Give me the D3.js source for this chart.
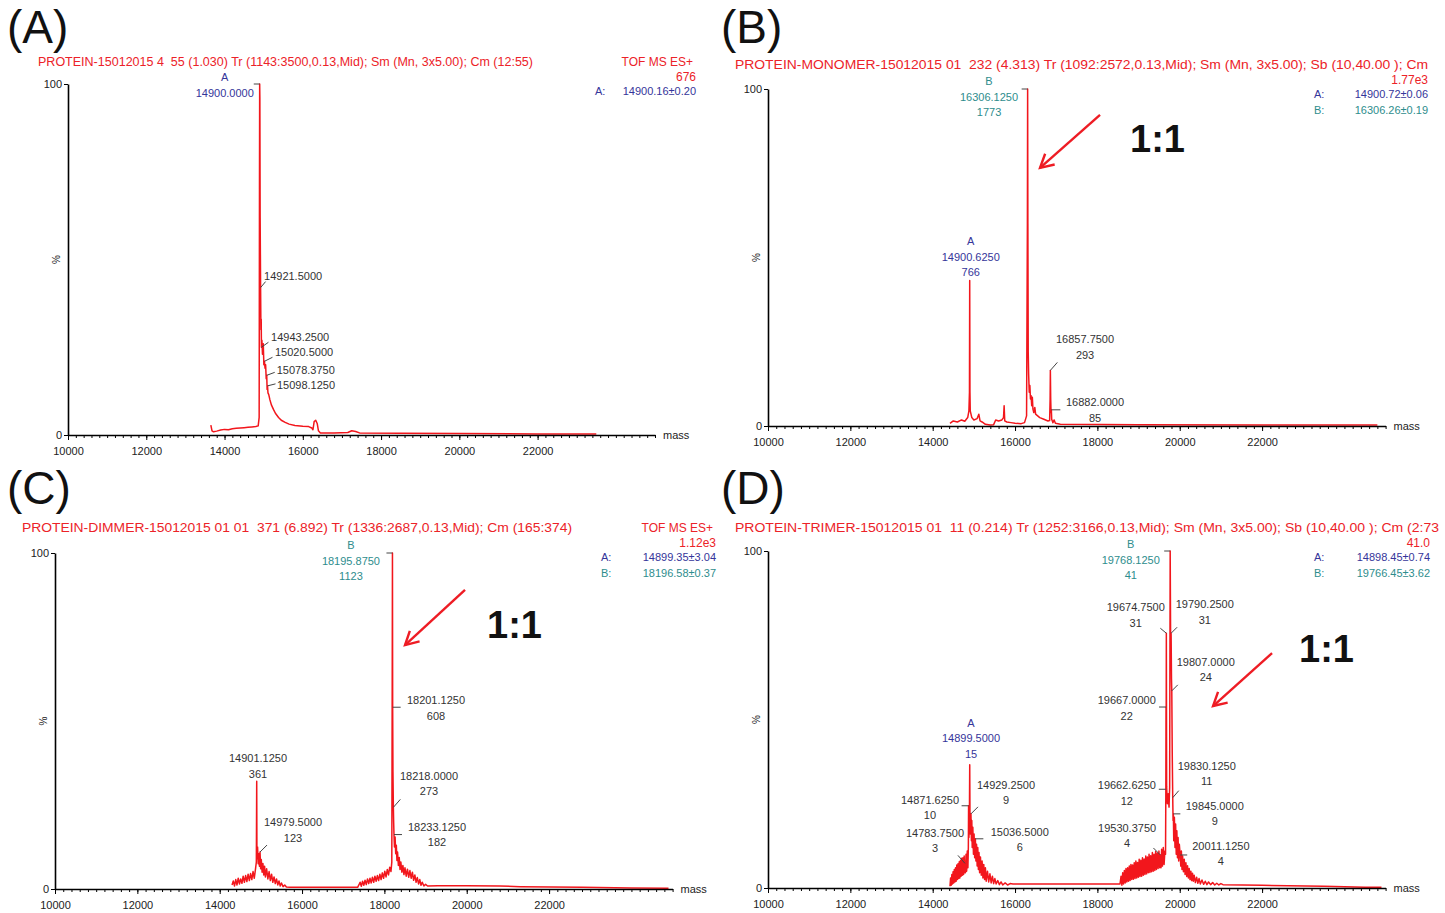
<!DOCTYPE html>
<html>
<head>
<meta charset="utf-8">
<script src="https://cdn.jsdelivr.net/npm/d3@7"></script>
<style>
  body { margin: 0; background: #fff; }
  text { font-family: "Liberation Sans", Arial, sans-serif; white-space: pre; }
</style>
</head>
<body>
<svg id="fig" width="1445" height="913"></svg>
<script>
// ---- axis values ----
const massTicks = [10000, 12000, 14000, 16000, 18000, 20000, 22000];
const massDomain = [10000, 25000];

// ---- header texts ----
const headerA = "PROTEIN-15012015 4  55 (1.030) Tr (1143:3500,0.13,Mid); Sm (Mn, 3x5.00); Cm (12:55)";
const headerB = "PROTEIN-MONOMER-15012015 01  232 (4.313) Tr (1092:2572,0.13,Mid); Sm (Mn, 3x5.00); Sb (10,40.00 ); Cm";
const headerC = "PROTEIN-DIMMER-15012015 01 01  371 (6.892) Tr (1336:2687,0.13,Mid); Cm (165:374)";
const headerD = "PROTEIN-TRIMER-15012015 01  11 (0.214) Tr (1252:3166,0.13,Mid); Sm (Mn, 3x5.00); Sb (10,40.00 ); Cm (2:73";

// ---- right-hand stats: [mode, total], then component lines ----
const statTopA = ["TOF MS ES+", "676"];
const statTopB = ["", "1.77e3"];
const statTopC = ["TOF MS ES+", "1.12e3"];
const statTopD = ["", "41.0"];
const compA = [["A:", "14900.16\u00b10.20"]];
const compB = [["A:", "14900.72\u00b10.06"], ["B:", "16306.26\u00b10.19"]];
const compC = [["A:", "14899.35\u00b13.04"], ["B:", "18196.58\u00b10.37"]];
const compD = [["A:", "14898.45\u00b10.74"], ["B:", "19766.45\u00b13.62"]];

// ---- spectra: [mass, relative intensity %] ----
const specA = [
  [13650,2.8],[13680,1.2],[13720,0.9],[13800,1.1],[13900,1.4],[14000,1.6],[14100,1.5],[14200,1.8],
  [14300,1.9],[14400,2.0],[14500,2.1],[14600,2.2],[14700,2.3],[14800,2.4],[14860,2.6],[14885,5],
  [14893,70],[14898,100],[14903,96],[14910,62],[14921.5,42],[14930,30],[14937,33],[14943.25,25],
  [14955,27],[14970,23],[14990,26],[15005,20],[15020.5,21],[15035,19],[15050,20],[15065,16],
  [15078.4,17],[15088,13],[15098.1,14],[15110,12],[15130,11.5],[15160,10],[15200,8.5],[15250,7.3],
  [15300,6.2],[15380,5],[15450,4.2],[15550,3.6],[15650,3.1],[15800,2.7],[16000,2.5],[16150,2.4],
  [16230,2.0],[16260,1.5],[16290,3.8],[16330,4.2],[16370,3.2],[16400,1.2],[16450,0.6],[16800,0.6],
  [17150,0.7],[17250,1.2],[17350,1.0],[17450,0.6],[18500,0.5],[20000,0.4],[22000,0.3],[23500,0.25]
];
const specB = [
  [14420,0.8],[14500,1.5],[14600,1.2],[14700,1.8],[14780,1.4],[14850,2.5],[14880,4.5],[14893,10],
  [14899,43.2],[14905,10],[14912,4.5],[14950,2.5],[15000,1.8],[15080,2.2],[15120,3.5],[15150,1.5],
  [15200,1.2],[15280,0.5],[15400,0.3],[15480,0.4],[15530,1.8],[15600,1.5],[15680,1.8],[15720,2.5],
  [15735,6],[15750,1.5],[15800,1.2],[15900,1.0],[16000,0.8],[16150,0.7],[16230,1.0],[16280,3],
  [16300,60],[16306,100],[16312,60],[16320,22],[16330,15.5],[16345,10],[16360,12],[16375,8],
  [16390,9],[16405,6],[16420,8.5],[16435,5],[16455,4],[16480,5.5],[16500,3.5],[16550,3],
  [16600,2.5],[16700,2],[16800,1.5],[16840,1.6],[16852,8],[16858,16.5],[16866,8],[16875,4],
  [16882,4.8],[16890,2],[16920,1],[16950,1.8],[16980,0.8],[17100,0.5],[19000,0.4],[22000,0.3],[24800,0.3]
];
const specC = [
  [14300,1.2],[14330,2.4],[14360,0.9],[14390,2.8],[14420,1.2],[14450,3.2],[14480,1.5],[14510,3.0],
  [14540,1.7],[14570,3.8],[14600,2.0],[14630,4.0],[14660,2.2],[14690,4.4],[14720,2.5],[14750,4.6],
  [14780,2.8],[14810,5.2],[14840,3.2],[14870,6.0],[14890,8],[14899,32.1],[14905,9],[14920,12.5],
  [14935,7.5],[14950,10.5],[14965,6.8],[14979.5,11],[14995,6.0],[15010,8.8],[15030,5.0],[15050,7.6],
  [15070,4.2],[15090,6.8],[15110,3.6],[15140,6.0],[15170,3.0],[15200,5.2],[15230,2.5],[15260,4.4],
  [15290,2.0],[15320,3.6],[15350,1.6],[15380,3.0],[15410,1.2],[15440,2.4],[15470,0.9],[15500,1.8],
  [15540,0.7],[15580,1.2],[15620,0.6],[15700,0.5],[16500,0.5],[17350,0.5],[17380,1.2],[17410,2.0],
  [17440,0.8],[17470,2.3],[17500,1.1],[17530,2.6],[17560,1.3],[17590,3.0],[17620,1.6],[17650,3.2],
  [17680,1.8],[17710,3.5],[17740,2.0],[17770,3.8],[17800,2.3],[17830,4.0],[17860,2.5],[17890,4.4],
  [17920,2.8],[17950,4.8],[17980,3.2],[18010,5.3],[18040,3.6],[18070,5.8],[18100,4.2],[18130,6.5],
  [18160,5.2],[18180,8],[18190,60],[18196,100],[18201,54.1],[18208,35],[18218,24.3],[18225,20],
  [18233,16.2],[18245,12.5],[18260,15.5],[18275,10.5],[18290,13],[18305,8.5],[18320,11],[18340,7],
  [18360,9.4],[18380,5.8],[18400,8],[18425,5],[18450,7],[18475,4.3],[18500,6.3],[18530,3.8],
  [18560,5.9],[18590,3.5],[18620,5.5],[18650,3.2],[18680,5.0],[18710,2.6],[18740,4.2],[18770,2.0],
  [18800,3.4],[18830,1.5],[18860,2.8],[18890,1.1],[18920,2.0],[18960,0.9],[19000,1.4],[19050,0.9],
  [19300,1.0],[20000,1.0],[20800,0.9],[21300,0.7],[22800,0.5],[24000,0.3],[24900,0.2]
];
const specD = [
  [14420,0.5],[14435,3.0],[14450,0.8],[14465,4.0],[14480,1.2],[14495,4.8],[14510,1.5],[14525,5.5],
  [14540,1.8],[14555,6.0],[14570,2.0],[14585,6.8],[14600,2.5],[14615,7.2],[14630,2.8],[14645,7.8],
  [14660,3.0],[14675,8.2],[14690,3.5],[14705,8.8],[14720,3.8],[14735,9.0],[14750,4.0],[14765,9.5],
  [14775,4.5],[14784,7.3],[14795,4.5],[14810,10],[14825,5],[14840,11],[14855,6],[14866,12],
  [14871.6,24.4],[14880,15],[14890,18],[14899.5,36.6],[14906,20],[14915,16],[14922,19],[14929,22],
  [14940,14],[14950,20],[14960,12],[14975,18],[14990,10],[15005,16],[15020,9],[15036.5,14.6],
  [15050,8],[15065,13],[15080,6.5],[15095,12],[15110,5.5],[15125,10.5],[15140,4.5],[15160,9.2],
  [15180,3.8],[15200,8.0],[15220,3.0],[15240,7.0],[15260,2.5],[15280,6.0],[15300,2.0],[15330,5.0],
  [15360,1.8],[15390,4.2],[15420,1.5],[15450,3.5],[15480,1.3],[15510,2.8],[15540,1.2],[15580,2.2],
  [15620,1.0],[15660,1.8],[15700,0.9],[15760,1.5],[15820,0.9],[15880,1.3],[15950,1.2],[16500,1.2],
  [17500,1.2],[18550,1.2],[18575,3.5],[18595,0.8],[18615,4.5],[18635,1.2],[18655,5.2],[18675,1.5],
  [18695,5.8],[18715,1.8],[18735,6.0],[18755,2.0],[18775,6.5],[18795,2.2],[18815,7.0],[18835,2.5],
  [18855,6.8],[18875,2.6],[18895,7.5],[18915,2.8],[18935,8.0],[18955,3.0],[18975,7.6],[18995,3.2],
  [19015,8.5],[19035,3.4],[19055,8.2],[19075,3.5],[19095,9.0],[19115,3.8],[19135,8.6],[19155,4.0],
  [19175,9.5],[19195,4.2],[19215,9.2],[19235,4.5],[19255,10.0],[19275,4.6],[19295,9.6],[19315,4.8],
  [19335,10.5],[19355,5.0],[19375,10.0],[19395,5.2],[19415,10.8],[19435,5.5],[19455,10.4],[19475,5.8],
  [19495,11],[19515,6],[19530.4,9.8],[19545,6],[19560,11.5],[19580,6.5],[19600,12],[19620,7],
  [19640,11],[19655,10],[19662.6,29.3],[19667,53.7],[19670,45],[19674.8,75.6],[19682,30],[19700,25],
  [19720,28],[19740,24],[19755,30],[19768.1,100],[19780,70],[19790.3,75.6],[19800,62],[19807,58.5],
  [19818,40],[19830.1,26.8],[19838,20],[19845,22],[19855,14],[19870,21],[19885,12],[19900,19],
  [19915,10],[19930,17],[19945,9],[19960,15],[19975,8],[19990,13],[20011,9.8],[20025,6.5],
  [20040,11],[20055,5.5],[20070,9.5],[20090,4.8],[20110,8.5],[20130,4.0],[20150,7.5],[20170,3.4],
  [20190,6.6],[20210,3.0],[20230,5.8],[20250,2.5],[20270,5.0],[20290,2.2],[20310,4.4],[20330,2.0],
  [20350,3.8],[20380,1.6],[20410,3.2],[20440,1.4],[20470,2.8],[20500,1.2],[20540,2.4],[20580,1.1],
  [20620,2.0],[20660,1.0],[20700,1.8],[20750,1.0],[20800,1.6],[20850,0.9],[20900,1.4],[20950,0.9],
  [21000,1.3],[21050,1.0],[22000,0.8],[23500,0.5],[24500,0.2],[24900,0.2]
];

// ---- labelled peaks: mass, intensity %, tag, text lines ----
const peaksA = [
  { m: 14900, v: 100, tag: "A", lines: ["A", "14900.0000"] },
  { m: 14921.5, v: 42, tag: "", lines: ["14921.5000"] },
  { m: 14943.25, v: 25, tag: "", lines: ["14943.2500"] },
  { m: 15020.5, v: 21, tag: "", lines: ["15020.5000"] },
  { m: 15078.375, v: 17, tag: "", lines: ["15078.3750"] },
  { m: 15098.125, v: 14, tag: "", lines: ["15098.1250"] }
];
const peaksB = [
  { m: 14900.625, v: 43.2, tag: "A", lines: ["A", "14900.6250", "766"] },
  { m: 16306.125, v: 100, tag: "B", lines: ["B", "16306.1250", "1773"] },
  { m: 16857.75, v: 16.5, tag: "", lines: ["16857.7500", "293"] },
  { m: 16882, v: 4.8, tag: "", lines: ["16882.0000", "85"] }
];
const peaksC = [
  { m: 14901.125, v: 32.1, tag: "", lines: ["14901.1250", "361"] },
  { m: 14979.5, v: 11, tag: "", lines: ["14979.5000", "123"] },
  { m: 18195.875, v: 100, tag: "B", lines: ["B", "18195.8750", "1123"] },
  { m: 18201.125, v: 54.1, tag: "", lines: ["18201.1250", "608"] },
  { m: 18218, v: 24.3, tag: "", lines: ["18218.0000", "273"] },
  { m: 18233.125, v: 16.2, tag: "", lines: ["18233.1250", "182"] }
];
const peaksD = [
  { m: 14899.5, v: 36.6, tag: "A", lines: ["A", "14899.5000", "15"] },
  { m: 14929.25, v: 22, tag: "", lines: ["14929.2500", "9"] },
  { m: 14871.625, v: 24.4, tag: "", lines: ["14871.6250", "10"] },
  { m: 14783.75, v: 7.3, tag: "", lines: ["14783.7500", "3"] },
  { m: 15036.5, v: 14.6, tag: "", lines: ["15036.5000", "6"] },
  { m: 19768.125, v: 100, tag: "B", lines: ["B", "19768.1250", "41"] },
  { m: 19674.75, v: 75.6, tag: "", lines: ["19674.7500", "31"] },
  { m: 19790.25, v: 75.6, tag: "", lines: ["19790.2500", "31"] },
  { m: 19807, v: 58.5, tag: "", lines: ["19807.0000", "24"] },
  { m: 19667, v: 53.7, tag: "", lines: ["19667.0000", "22"] },
  { m: 19830.125, v: 26.8, tag: "", lines: ["19830.1250", "11"] },
  { m: 19662.625, v: 29.3, tag: "", lines: ["19662.6250", "12"] },
  { m: 19845, v: 22, tag: "", lines: ["19845.0000", "9"] },
  { m: 19530.375, v: 9.8, tag: "", lines: ["19530.3750", "4"] },
  { m: 20011.125, v: 9.8, tag: "", lines: ["20011.1250", "4"] }
];

// label placement relative to the peak: [dx, dy, leaderDx, leaderDy]
const labelPosA = [[-35,-3,-6,0],[32.5,-7.6,5,-6],[38.7,-6,7,-5],[39.6,-5,8,-4],[39,-1,8,-3],[38.5,3,8,-2]];
const labelPosB = [[1,-35,0,0],[-38.6,-4,-6,0],[34.7,-27,7,-8],[43.7,-3.8,9,0]];
const labelPosC = [[1.2,-19,0,0],[33,-26,7,-7],[-41.5,-4,-6,0],[43.3,-3,8,0],[35.6,-27.4,7,-8],[43,-3.6,8,0]];
const labelPosD = [[1.3,-37.7,0,0],[35,-25,7,-7],[-38.6,-2,-7,0],[-30,-26.4,-7,-8],[44.4,-3,8,0],
  [-39.4,-3,-6,0],[-30.6,-22,-6,-5],[33.7,-25,6,-6],[34,-25,6,-6],[-39.3,-3,-7,0],
  [34,-27.7,6,-7],[-39,0,-7,0],[41.4,-4,7,0],[-33.3,-23,-7,-7],[40.7,-5,7,0]];

// "1:1" arrows: [tip], [tail], [text] in data units
const arrowB = [[16607, 76.6], [18064, 92.3], [18793, 81.3]];
const arrowC = [[18501, 72.6], [19958, 89], [20493, 74.7]];
const arrowD = [[20809, 54], [22242, 69.7], [22898, 67]];

const RED = "#ec2228", BLUE = "#35359a", TEAL = "#2e8d8d", GREY = "#333";
const tagColor = { A: BLUE, B: TEAL, "": GREY };

const svg = d3.select("#fig");
svg.append("rect").attr("width", 1445).attr("height", 913).attr("fill", "#fff");

function drawPanel(p) {
  const g = svg.append("g");
  const x = d3.scaleLinear().domain(massDomain).range([p.left, p.right]);
  const y = d3.scaleLinear().domain([0, 100]).range([p.bottom, p.top]);

  g.append("text").attr("x", p.letterX).attr("y", p.letterY)
    .attr("font-size", 46).attr("fill", "#111").text(p.letter);

  const h = g.append("text").attr("x", p.headX).attr("y", p.headY)
    .attr("font-size", 12).attr("fill", RED).text(p.header);
  if (p.headW) h.attr("textLength", p.headW).attr("lengthAdjust", "spacingAndGlyphs");

  // right stats block
  if (p.statTop[0]) g.append("text").attr("x", p.statR - 3).attr("y", p.headY)
    .attr("text-anchor", "end").attr("font-size", 12).attr("fill", RED).text(p.statTop[0]);
  g.append("text").attr("x", p.statR).attr("y", p.headY + 15)
    .attr("text-anchor", "end").attr("font-size", 12).attr("fill", RED).text(p.statTop[1]);
  p.comps.forEach((c, i) => {
    const col = i === 0 ? BLUE : TEAL;
    g.append("text").attr("x", p.statR - p.keyGap).attr("y", p.headY + 29 + i * 16)
      .attr("font-size", 11).attr("fill", col).text(c[0]);
    g.append("text").attr("x", p.statR).attr("y", p.headY + 29 + i * 16)
      .attr("text-anchor", "end").attr("font-size", 11).attr("fill", col).text(c[1]);
  });

  // spectrum trace
  g.append("path").datum(p.spec)
    .attr("d", d3.line().x(d => x(d[0])).y(d => y(d[1])))
    .attr("fill", "none").attr("stroke", "#f2161c").attr("stroke-width", 1.5)
    .attr("stroke-linejoin", "round");

  // x axis: minor ticks, then labelled ones
  g.append("g").attr("transform", `translate(0,${p.bottom})`)
    .call(d3.axisBottom(x).tickValues(d3.range(10000, 25001, 200)).tickSize(3).tickSizeOuter(0).tickFormat(""))
    .call(a => a.select(".domain").attr("stroke-width", 1.6));
  g.append("g").attr("transform", `translate(0,${p.bottom})`)
    .call(d3.axisBottom(x).tickValues(massTicks).tickSize(5).tickSizeOuter(0).tickPadding(7).tickFormat(d3.format("d")))
    .call(a => a.select(".domain").remove())
    .call(a => a.selectAll("text").attr("font-size", 11).attr("fill", "#222")
      .attr("font-family", "Liberation Sans, Arial, sans-serif"));
  g.append("text").attr("x", p.right + 8).attr("y", p.bottom + 4)
    .attr("font-size", 11).attr("fill", "#222").text("mass");

  // y axis
  g.append("g").attr("transform", `translate(${p.left},0)`)
    .call(d3.axisLeft(y).tickValues([0, 100]).tickSize(4).tickPadding(2).tickSizeOuter(0))
    .call(a => a.select(".domain").attr("stroke-width", 1.6))
    .call(a => a.selectAll("text").attr("font-size", 11).attr("fill", "#222")
      .attr("font-family", "Liberation Sans, Arial, sans-serif"));
  g.append("text").attr("transform", `translate(${p.left - 8},${y(50)}) rotate(-90)`)
    .attr("text-anchor", "middle").attr("font-size", 10).attr("fill", "#222").text("%");

  // peak labels and leaders
  p.peaks.forEach((pk, i) => {
    const [dx, dy, lx, ly] = p.pos[i];
    const px = x(pk.m), py = y(pk.v);
    if (lx || ly) {
      g.append("line").attr("x1", px).attr("y1", py).attr("x2", px + lx).attr("y2", py + ly)
        .attr("stroke", "#444").attr("stroke-width", 1);
    }
    const col = tagColor[pk.tag];
    pk.lines.forEach((t, j) => {
      g.append("text").attr("x", px + dx).attr("y", py + dy + j * 15.5)
        .attr("text-anchor", "middle").attr("font-size", 11)
        .attr("fill", col).text(t);
    });
  });

  // 1:1 arrow
  if (p.arrow) {
    const [tip, tail, lab] = p.arrow;
    const tx = x(tip[0]), ty = y(tip[1]), sx = x(tail[0]), sy = y(tail[1]);
    const ang = Math.atan2(ty - sy, tx - sx);
    const head = [ang + Math.PI - 0.5, ang + Math.PI + 0.5]
      .map(a => [tx + 15 * Math.cos(a), ty + 15 * Math.sin(a)]);
    g.append("line").attr("x1", sx).attr("y1", sy).attr("x2", tx).attr("y2", ty)
      .attr("stroke", "#ee1c24").attr("stroke-width", 2.4);
    g.append("path").attr("d", `M${head[0]}L${tx},${ty}L${head[1]}`)
      .attr("fill", "none").attr("stroke", "#ee1c24").attr("stroke-width", 2.4)
      .attr("stroke-linejoin", "miter");
    g.append("text").attr("x", x(lab[0])).attr("y", y(lab[1]))
      .attr("font-size", 38).attr("font-weight", "bold").attr("fill", "#111").text("1:1");
  }
}

drawPanel({ letter: "(A)", letterX: 7, letterY: 43, header: headerA, headX: 38, headY: 66, headW: 495,
  statTop: statTopA, comps: compA, statR: 696, keyGap: 101,
  left: 68, right: 655, top: 84, bottom: 435, spec: specA, peaks: peaksA, pos: labelPosA });
drawPanel({ letter: "(B)", letterX: 721, letterY: 43, header: headerB, headX: 735, headY: 69, headW: 693,
  statTop: statTopB, comps: compB, statR: 1428, keyGap: 114,
  left: 768, right: 1385.6, top: 89, bottom: 426, spec: specB, peaks: peaksB, pos: labelPosB, arrow: arrowB });
drawPanel({ letter: "(C)", letterX: 7, letterY: 504, header: headerC, headX: 22, headY: 532, headW: 550,
  statTop: statTopC, comps: compC, statR: 716, keyGap: 115,
  left: 55, right: 672.6, top: 553, bottom: 889, spec: specC, peaks: peaksC, pos: labelPosC, arrow: arrowC });
drawPanel({ letter: "(D)", letterX: 721, letterY: 504, header: headerD, headX: 735, headY: 532, headW: 704,
  statTop: statTopD, comps: compD, statR: 1430, keyGap: 116,
  left: 768, right: 1385.6, top: 551, bottom: 888, spec: specD, peaks: peaksD, pos: labelPosD, arrow: arrowD });
</script>
</body>
</html>
